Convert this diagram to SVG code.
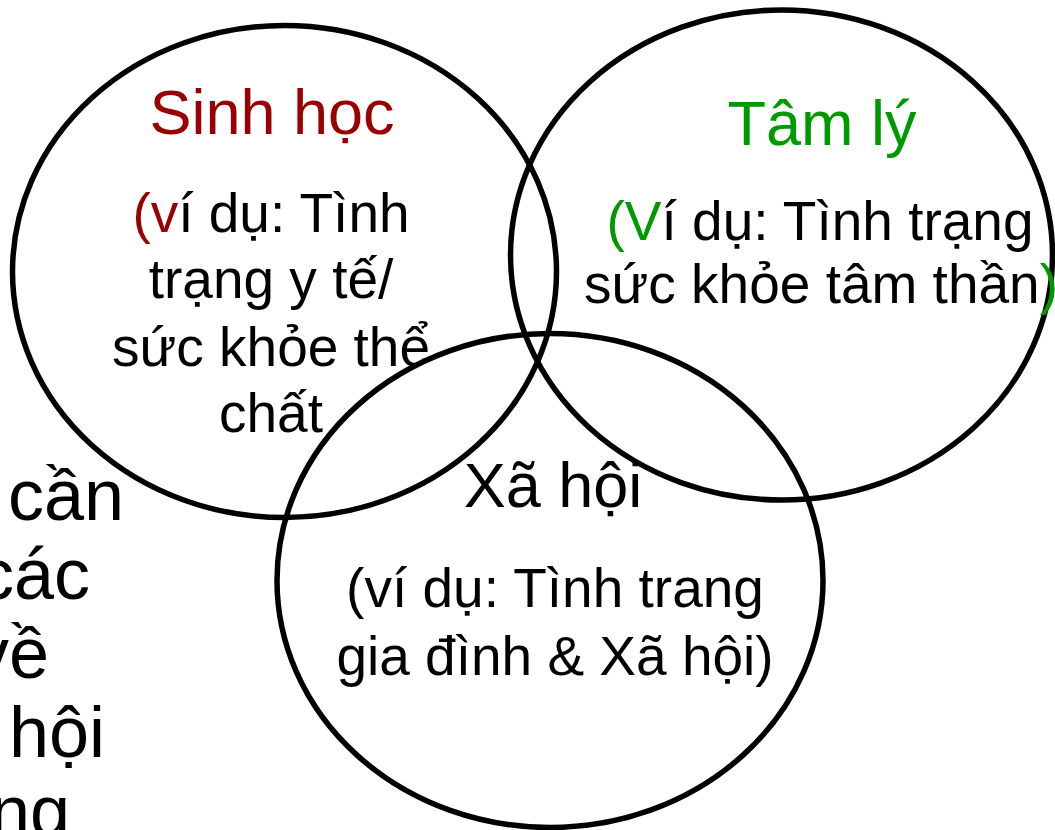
<svg xmlns="http://www.w3.org/2000/svg" width="1055" height="830" viewBox="0 0 1055 830">
<style>
.ring{fill:none;stroke:#000;stroke-width:5.5}
text{font-family:"Liberation Sans",Arial,sans-serif;fill:#000}
.title{font-size:63px;text-anchor:middle}
.body{font-size:55px;text-anchor:middle}
.frag{font-size:72px;text-anchor:end}
.red{fill:#990000}
.green{fill:#009900}
</style>
<rect width="1055" height="830" fill="#fff"/>
<g id="background-text">
<text class="frag" x="124" y="520">cần</text>
<text class="frag" x="90" y="599">các</text>
<text class="frag" x="49" y="678">về</text>
<text class="frag" x="105" y="757">hội</text>
<text class="frag" x="70" y="836">ng</text>
</g>
<g id="sinh-hoc">
<ellipse class="ring" cx="284.5" cy="271.5" rx="272" ry="246"/>
<text class="title red" x="272" y="134">Sinh học</text>
<text class="body" x="271" y="232"><tspan class="red">(v</tspan>í dụ: Tình</text>
<text class="body" x="271" y="298">trạng y tế/</text>
<text class="body" x="271" y="366">sức khỏe thể</text>
<text class="body" x="271" y="432">chất</text>
</g>
<g id="tam-ly">
<ellipse class="ring" cx="781.5" cy="255" rx="271" ry="245"/>
<text class="title green" x="822" y="145">Tâm lý</text>
<text class="body" x="820" y="240"><tspan class="green">(V</tspan>í dụ: Tình trạng</text>
<text class="body" x="821" y="303">sức khỏe tâm thần<tspan class="green">)</tspan></text>
</g>
<g id="xa-hoi">
<ellipse class="ring" cx="550" cy="580.5" rx="273" ry="247"/>
<text class="title" x="553" y="507">Xã hội</text>
<text class="body" x="555" y="607">(ví dụ: Tình trang</text>
<text class="body" x="555" y="675">gia đình &amp; Xã hội)</text>
</g>
</svg>
